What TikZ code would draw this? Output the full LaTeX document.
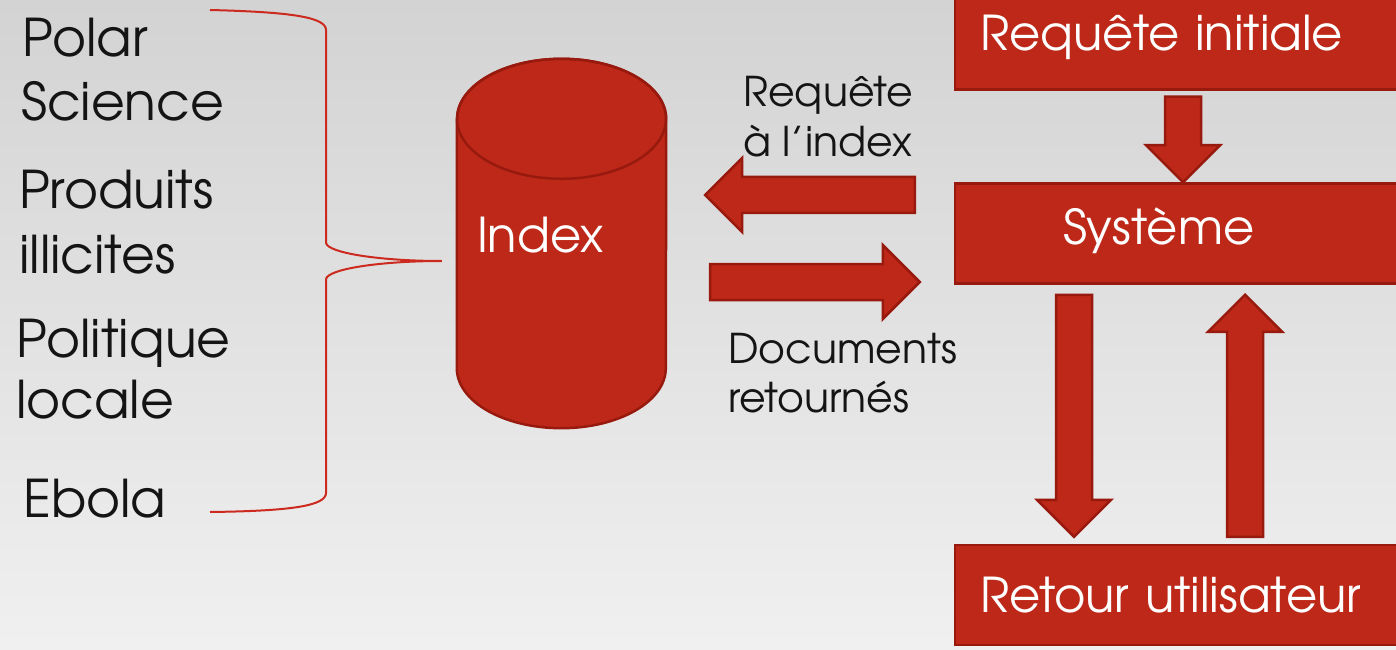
\documentclass[tikz,border=0pt]{standalone}
\usepackage{fontspec}
\setmainfont{TeX Gyre Adventor}
\usetikzlibrary{calc}

\definecolor{boxred}{RGB}{190,40,24}
\definecolor{boxedge}{RGB}{152,25,14}
\definecolor{bracered}{RGB}{204,42,30}
\definecolor{ink}{RGB}{20,20,20}
\definecolor{bgtop}{RGB}{211,211,211}
\definecolor{bgmid}{RGB}{220,224,225}
\definecolor{bgbot}{RGB}{240,240,240}

\newcommand\BigArrow[2]{%
  \coordinate (h) at ($(#2)!37pt!(#1)$);
  \filldraw[fat] ($(#1)!18pt!90:(#2)$) -- ($(h)!18pt!90:(#2)$) -- ($(h)!37pt!90:(#2)$)
    -- (#2) -- ($(h)!37pt!-90:(#2)$) -- ($(h)!18pt!-90:(#2)$) -- ($(#1)!18pt!-90:(#2)$) -- cycle;
}

\begin{document}
\begin{tikzpicture}[x=1pt,y=1pt,
  box/.style={rectangle, fill=boxred, draw=boxedge, line width=2.5pt, text width=406pt,
    inner xsep=25pt, inner ysep=0pt, minimum height=100pt, align=left, text=white,
    text height=36pt, text depth=14pt, font=\fontsize{48}{58}\selectfont},
  fat/.style={fill=boxred, draw=boxedge, line width=2.5pt, line join=miter},
  lbl/.style={anchor=base west, inner sep=0pt, text=ink, font=\fontsize{52}{62}\selectfont},
  midlbl/.style={lbl, font=\fontsize{41}{50}\selectfont},
  brace/.style={draw=bracered, line width=2pt}]
  \useasboundingbox (0,0) rectangle (1396,649);
  \clip (0,0) rectangle (1396,649);
  \shade[top color=bgtop, middle color=bgmid, bottom color=bgbot] (0,0) rectangle (1396,649);

  \node[box] (Req) at (1183,609.5) {\mbox{Requête initiale}};
  \node[box] (Sys) at (1183,415.5) {\hspace*{83pt}Système};
  \node[box, text depth=2pt] (Ret) at (1183,54) {\mbox{Retour utilisateur}};

  \node[minimum width=209pt, minimum height=369pt, inner sep=0pt] (Idx) at (561.5,405.5) {};
  \filldraw[fat] ([yshift=-60pt]Idx.north west) -- ([yshift=60pt]Idx.south west)
    arc[start angle=180, end angle=360, x radius=104.5pt, y radius=60pt]
    -- ([yshift=-60pt]Idx.north east)
    arc[start angle=0, end angle=180, x radius=104.5pt, y radius=60pt] -- cycle;
  \draw[fat, fill=none] ([yshift=-60pt]Idx.north) ellipse [x radius=104.5pt, y radius=60pt];
  \node[lbl, text=white, font=\fontsize{48}{58}\selectfont] (IdxT) at ($(Idx.west)+(20,-8.5)$) {Index};

  \coordinate (q1) at ($(Req.south)+(0,-6)$);
  \coordinate (q2) at (Sys.north);
  \coordinate (s1) at ($(Sys.south)+(-109,-10)$);
  \coordinate (s2) at ($(Ret.north)+(-109,7)$);
  \coordinate (r1) at ($(Ret.north)+(62,7)$);
  \coordinate (r2) at ($(Sys.south)+(62,-10)$);
  \coordinate (i1) at ($(Sys.west)+(-39,38.5)$);
  \coordinate (i2) at ($(Idx.east)+(39,48.5)$);
  \coordinate (d1) at ($(Idx.east)+(44,-38.5)$);
  \coordinate (d2) at ($(Sys.west)+(-34,-48.5)$);
  \BigArrow{q1}{q2}
  \BigArrow{s1}{s2}
  \BigArrow{r1}{r2}
  \BigArrow{i1}{i2}
  \BigArrow{d1}{d2}

  \node[midlbl] (M1) at (743,542) {Requête};
  \node[midlbl] (M2) at (743,492) {à l’index};
  \node[midlbl] (M3) at (728,286) {Documents};
  \node[midlbl] (M4) at (728,237) {retournés};

  \node[lbl] (L1) at (22,592) {Polar};
  \node[lbl] (L2) at (21,528) {Science};
  \node[lbl] (L3) at (19,440) {Produits};
  \node[lbl] (L4) at (19,376) {illicites};
  \node[lbl] (L5) at (16,292) {Politique};
  \node[lbl] (L6) at (16,231) {locale};
  \node[lbl] (L7) at (23,132) {Ebola};

  \coordinate (tip) at ($(Idx.west)+(-15,-17.5)$);
  \draw[brace] (210,639) .. controls (290,637) and (326,632) .. (326,619) -- (326,406)
    .. controls (328,396) and (380,388) .. (tip)
    .. controls (380,388) and (328,380) .. (326,370) -- (326,156)
    .. controls (326,143) and (290,138) .. (210,137);
\end{tikzpicture}
\end{document}
